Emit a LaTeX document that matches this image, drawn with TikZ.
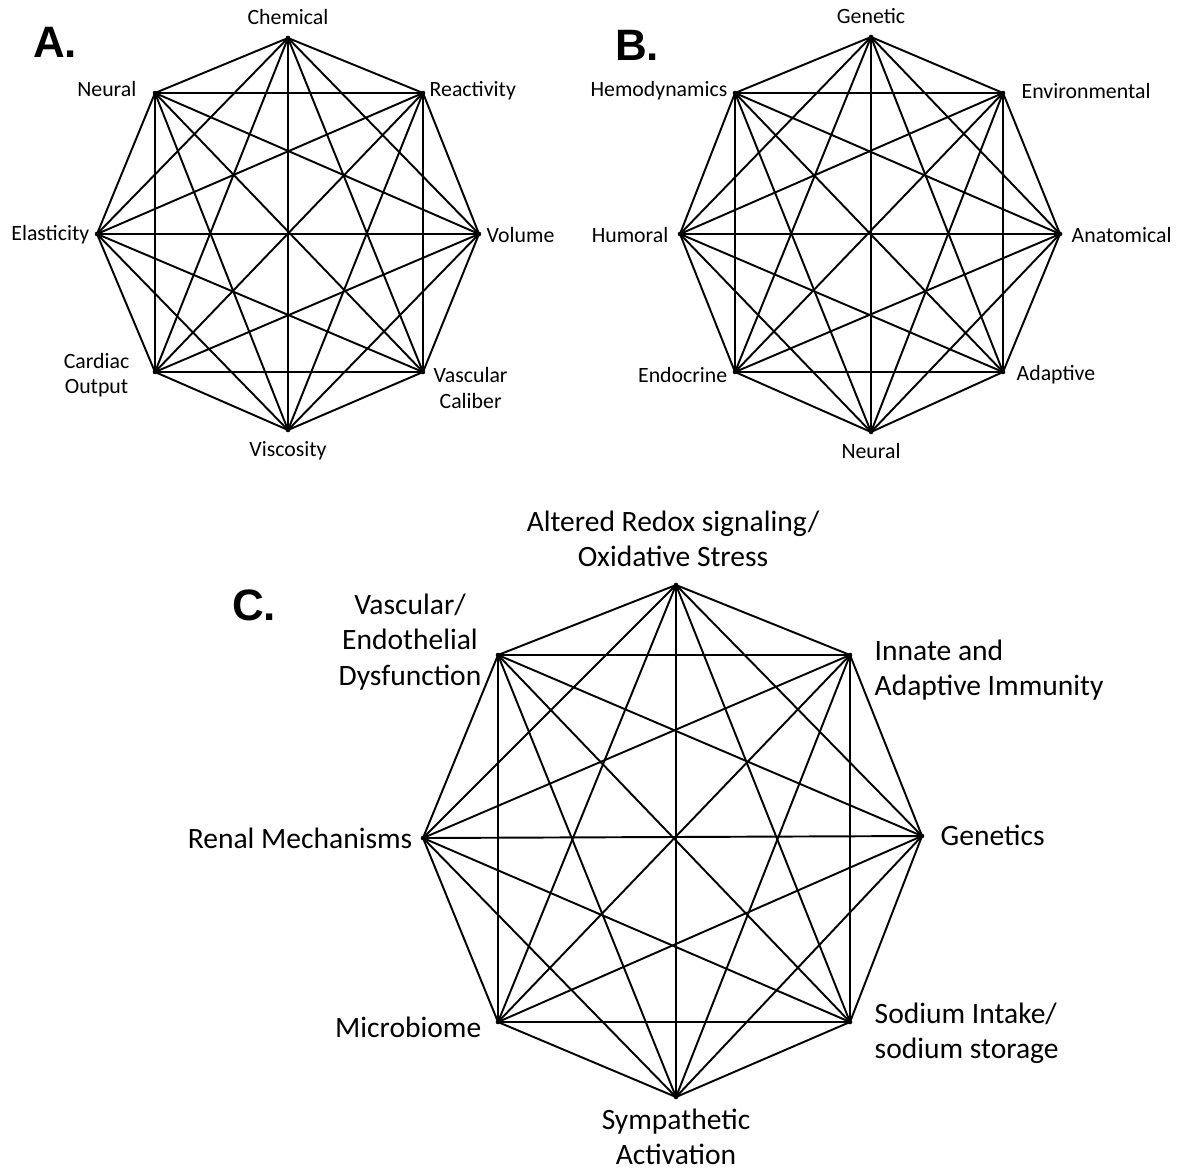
\documentclass[tikz,border=0pt]{standalone}
\usepackage{fontspec}
\setmainfont{Carlito}
\newfontfamily\panelfont{Liberation Sans}
\usetikzlibrary{positioning}

\begin{document}
\begin{tikzpicture}[x=0.01cm,y=-0.01cm,
    vtx/.style={circle,fill=black,inner sep=0pt,minimum size=1.3pt},
    edge/.style={line width=0.55pt},
    lblA/.style={font=\fontsize{6.2}{7.2}\selectfont,inner sep=0pt,align=center},
    lblC/.style={font=\fontsize{8.4}{10}\selectfont,inner sep=0pt},
    panel/.style={font=\panelfont\bfseries\fontsize{12.5}{14}\selectfont,inner sep=0pt}]
  \useasboundingbox (0,0) rectangle (1186,1167);
  % Octagon A
  \node[vtx] (a1) at (288,38) {};
  \node[vtx] (a2) at (423,93) {};
  \node[vtx] (a3) at (479,234) {};
  \node[vtx] (a4) at (423,372) {};
  \node[vtx] (a5) at (288,430) {};
  \node[vtx] (a6) at (155,372) {};
  \node[vtx] (a7) at (97,234) {};
  \node[vtx] (a8) at (155,93) {};
  % Octagon B
  \node[vtx] (b1) at (871,37) {};
  \node[vtx] (b2) at (1003,93) {};
  \node[vtx] (b3) at (1060,234) {};
  \node[vtx] (b4) at (1003,372) {};
  \node[vtx] (b5) at (871,432) {};
  \node[vtx] (b6) at (735,372) {};
  \node[vtx] (b7) at (680,234) {};
  \node[vtx] (b8) at (735,93) {};
  % Octagon C
  \node[vtx] (c1) at (676,585) {};
  \node[vtx] (c2) at (850,655) {};
  \node[vtx] (c3) at (922,836) {};
  \node[vtx] (c4) at (850,1022) {};
  \node[vtx] (c5) at (676,1097) {};
  \node[vtx] (c6) at (498,1022) {};
  \node[vtx] (c7) at (423,838) {};
  \node[vtx] (c8) at (498,655) {};
  % All chords
  \foreach \g in {a,b,c}
    \foreach \i in {1,...,7}{
      \pgfmathtruncatemacro\k{\i+1}
      \foreach \j in {\k,...,8}
        \draw[edge] (\g\i.center) -- (\g\j.center);
    }
  % Labels A
  \node[lblA,above=2.6pt of a1] {Chemical};
  \node[lblA,anchor=east] at (137,89) {Neural};
  \node[lblA,anchor=west] at (429,91) {Reactivity};
  \node[lblA,anchor=east] at (90,235) {Elasticity};
  \node[lblA,anchor=west] at (486,235) {Volume};
  \node[lblA,anchor=east] at (130,375) {Cardiac\\Output};
  \node[lblA,anchor=west] at (433,388) {Vascular\\Caliber};
  \node[lblA,below=2.2pt of a5] {Viscosity};
  % Labels B
  \node[lblA,above=2.6pt of b1] {Genetic};
  \node[lblA,anchor=east] at (728,91) {Hemodynamics};
  \node[lblA,anchor=west] at (1021,91) {Environmental};
  \node[lblA,anchor=east] at (669,235) {Humoral};
  \node[lblA,anchor=west] at (1071,235) {Anatomical};
  \node[lblA,anchor=east] at (728,375) {Endocrine};
  \node[lblA,anchor=west] at (1016,375) {Adaptive};
  \node[lblA,below=2.2pt of b5] {Neural};
  % Labels C
  \node[lblC,align=center] at (673,539) {Altered Redox signaling/\\Oxidative Stress};
  \node[lblC,align=center] at (410,642) {Vascular/\\Endothelial\\Dysfunction};
  \node[lblC,align=left,anchor=west] at (874,670) {Innate and\\Adaptive Immunity};
  \node[lblC,anchor=east] at (413,838) {Renal Mechanisms};
  \node[lblC,anchor=west] at (940,835) {Genetics};
  \node[lblC,anchor=east] at (482,1027) {Microbiome};
  \node[lblC,align=left,anchor=west] at (874,1033) {Sodium Intake/\\sodium storage};
  \node[lblC,align=center] at (676,1137) {Sympathetic\\Activation};
  % Panel letters
  \node[panel] at (55,42) {A.};
  \node[panel] at (637,45) {B.};
  \node[panel] at (254,605) {C.};
\end{tikzpicture}
\end{document}
